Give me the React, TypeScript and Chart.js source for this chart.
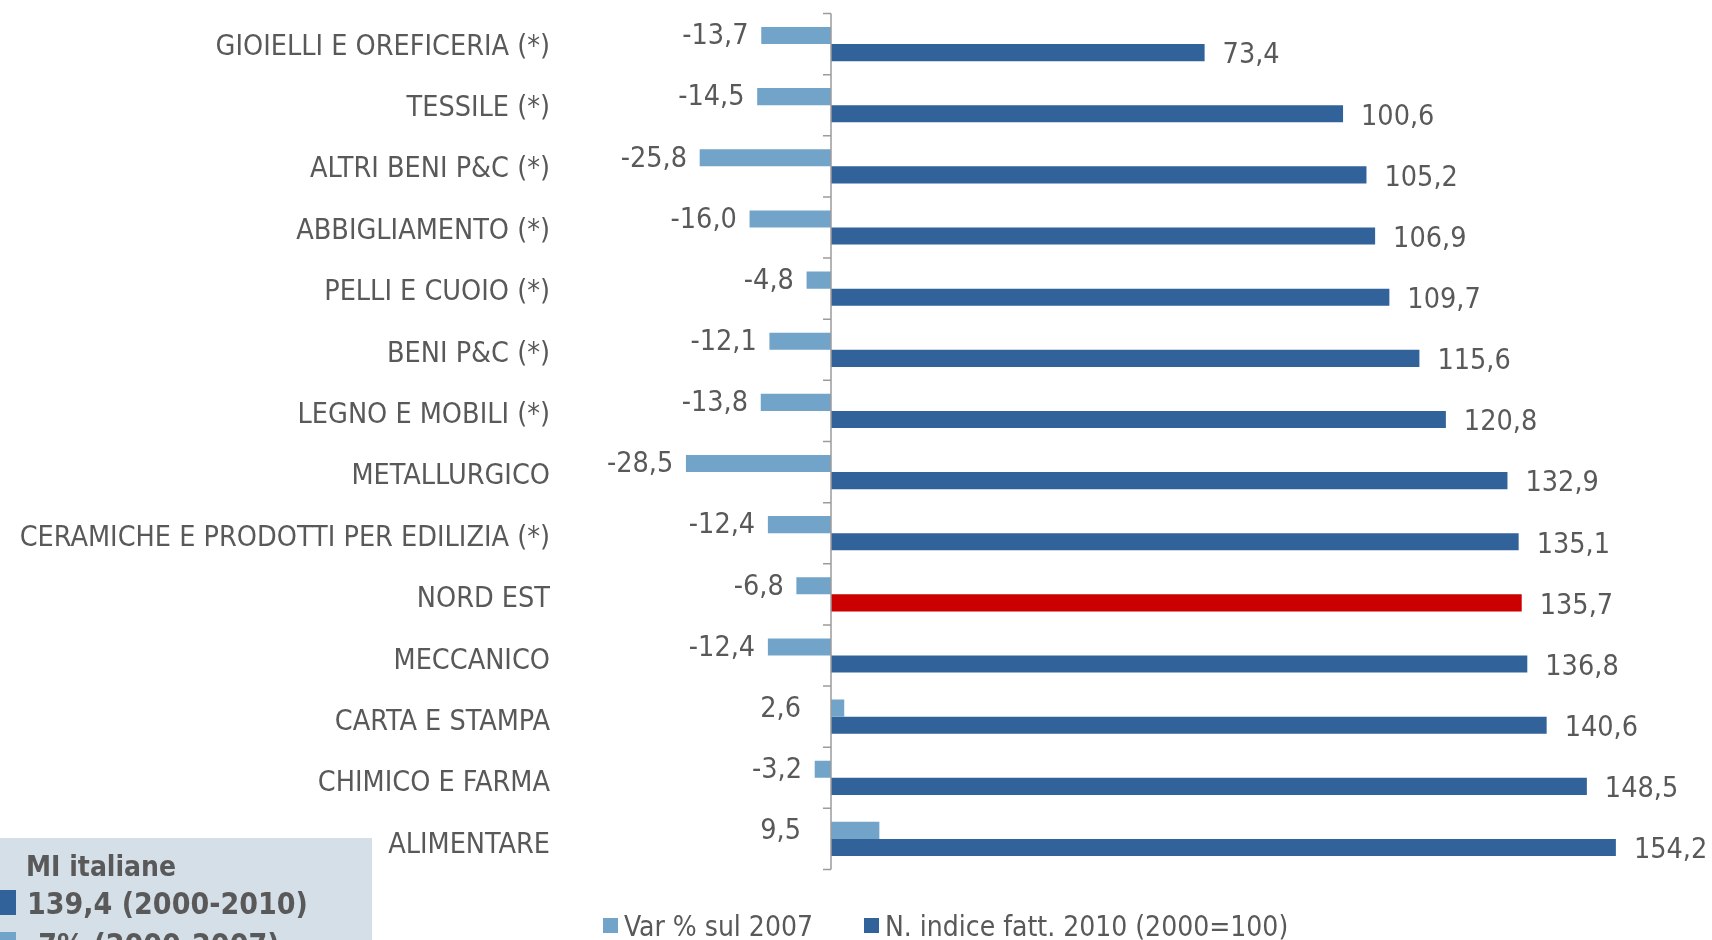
import React, { useEffect, useRef } from "react";
import { Chart, registerables } from "chart.js";

Chart.register(...registerables);

const categories = [
  "GIOIELLI E OREFICERIA (*)",
  "TESSILE (*)",
  "ALTRI BENI P&C (*)",
  "ABBIGLIAMENTO (*)",
  "PELLI E CUOIO (*)",
  "BENI P&C (*)",
  "LEGNO E MOBILI (*)",
  "METALLURGICO",
  "CERAMICHE E PRODOTTI PER EDILIZIA (*)",
  "NORD EST",
  "MECCANICO",
  "CARTA E STAMPA",
  "CHIMICO E FARMA",
  "ALIMENTARE",
];

const varPct = [-13.7, -14.5, -25.8, -16.0, -4.8, -12.1, -13.8, -28.5, -12.4, -6.8, -12.4, 2.6, -3.2, 9.5];
const indice = [73.4, 100.6, 105.2, 106.9, 109.7, 115.6, 120.8, 132.9, 135.1, 135.7, 136.8, 140.6, 148.5, 154.2];

const highlightCategory = "NORD EST";
const seriesNames = ["Var % sul 2007", "N. indice fatt. 2010 (2000=100)"];
const boxTitle = "MI italiane";
const boxLines = ["139,4 (2000-2010)", "-7% (2000-2007)"];

const LIGHT = "#72a3c8";
const DARK = "#31629a";
const RED = "#cc0000";
const TEXT = "#595959";
const FONT = '"DejaVu Sans Condensed", "DejaVu Sans", sans-serif';

const fmt = (v: number) => v.toFixed(1).replace(".", ",");

const overlayPlugin = {
  id: "overlay",
  afterDatasetsDraw(chart: any) {
    const ctx = chart.ctx as CanvasRenderingContext2D;
    const xs = chart.scales.x;
    const ys = chart.scales.y;
    const area = chart.chartArea;
    const zero = xs.getPixelForValue(0);
    ctx.save();

    // axis line + ticks
    ctx.strokeStyle = "#9c9c9c";
    ctx.lineWidth = 1.5;
    ctx.beginPath();
    ctx.moveTo(zero, area.top);
    ctx.lineTo(zero, area.bottom);
    const n = categories.length;
    const step = (area.bottom - area.top) / n;
    for (let i = 0; i <= n; i++) {
      const y = area.top + i * step;
      ctx.moveTo(zero - 8, y);
      ctx.lineTo(zero, y);
    }
    ctx.stroke();

    // category labels
    ctx.fillStyle = TEXT;
    ctx.font = `28.5px ${FONT}`;
    ctx.textBaseline = "alphabetic";
    ctx.textAlign = "right";
    categories.forEach((c, i) => {
      const y = ys.getPixelForValue(i);
      ctx.fillText(c, 550, y + 10.5 + i * 0.25);
    });

    // value labels
    const m0 = chart.getDatasetMeta(0);
    const m1 = chart.getDatasetMeta(1);
    m0.data.forEach((el: any, i: number) => {
      const v = varPct[i];
      const left = Math.min(el.x, el.base);
      const gap = v < 0 ? 12.7 : 30;
      ctx.textAlign = "right";
      ctx.fillText(fmt(v), left - gap, el.y - 1.5 + 10.3);
    });
    m1.data.forEach((el: any, i: number) => {
      ctx.textAlign = "left";
      ctx.fillText(fmt(indice[i]), el.x + 18, el.y + 0.5 + 10.3);
    });

    // legend
    ctx.font = `28px ${FONT}`;
    const legendItems = [
      { color: LIGHT, text: seriesNames[0], x: 603 },
      { color: DARK, text: seriesNames[1], x: 864 },
    ];
    legendItems.forEach((it) => {
      ctx.fillStyle = it.color;
      ctx.fillRect(it.x, 918, 15, 15);
      ctx.fillStyle = TEXT;
      ctx.textAlign = "left";
      ctx.fillText(it.text, it.x + 21, 926 + 10.2);
    });

    // info box
    ctx.fillStyle = "#d5dfe8";
    ctx.fillRect(0, 838, 372, 102);
    ctx.fillStyle = TEXT;
    ctx.textAlign = "left";
    ctx.font = `bold 28px ${FONT}`;
    ctx.fillText(boxTitle, 26, 866 + 10.2);
    ctx.font = `bold 30px ${FONT}`;
    ctx.fillStyle = DARK;
    ctx.fillRect(0, 890, 16, 25);
    ctx.fillStyle = TEXT;
    ctx.fillText(boxLines[0], 27, 903 + 11);
    ctx.fillStyle = LIGHT;
    ctx.fillRect(0, 932, 16, 25);
    ctx.fillStyle = TEXT;
    ctx.fillText(boxLines[1], 27, 944 + 11);

    ctx.restore();
  },
};

export default function App() {
  const ref = useRef<HTMLCanvasElement>(null);
  useEffect(() => {
    if (!ref.current) return;
    const chart = new Chart(ref.current, {
      type: "bar",
      data: {
        labels: categories,
        datasets: [
          {
            label: seriesNames[0],
            data: varPct,
            backgroundColor: LIGHT,
            categoryPercentage: 0.56,
            barPercentage: 1,
          },
          {
            label: seriesNames[1],
            data: indice,
            backgroundColor: categories.map((c) => (c === highlightCategory ? RED : DARK)),
            categoryPercentage: 0.56,
            barPercentage: 1,
          },
        ],
      },
      options: {
        indexAxis: "y",
        responsive: false,
        animation: false,
        layout: { padding: { left: 627.4, right: 15.7, top: 13.5, bottom: 70.5 } },
        plugins: { legend: { display: false }, tooltip: { enabled: false } },
        scales: {
          x: { display: false, min: -40, max: 170 },
          y: { display: false },
        },
      },
      plugins: [overlayPlugin],
    });
    return () => chart.destroy();
  }, []);
  return (
    <div style={{ position: "fixed", left: 0, top: 0, width: 1712, height: 940, background: "#fff" }}>
      <canvas ref={ref} width={1712} height={940} style={{ width: 1712, height: 940 }} />
    </div>
  );
}
